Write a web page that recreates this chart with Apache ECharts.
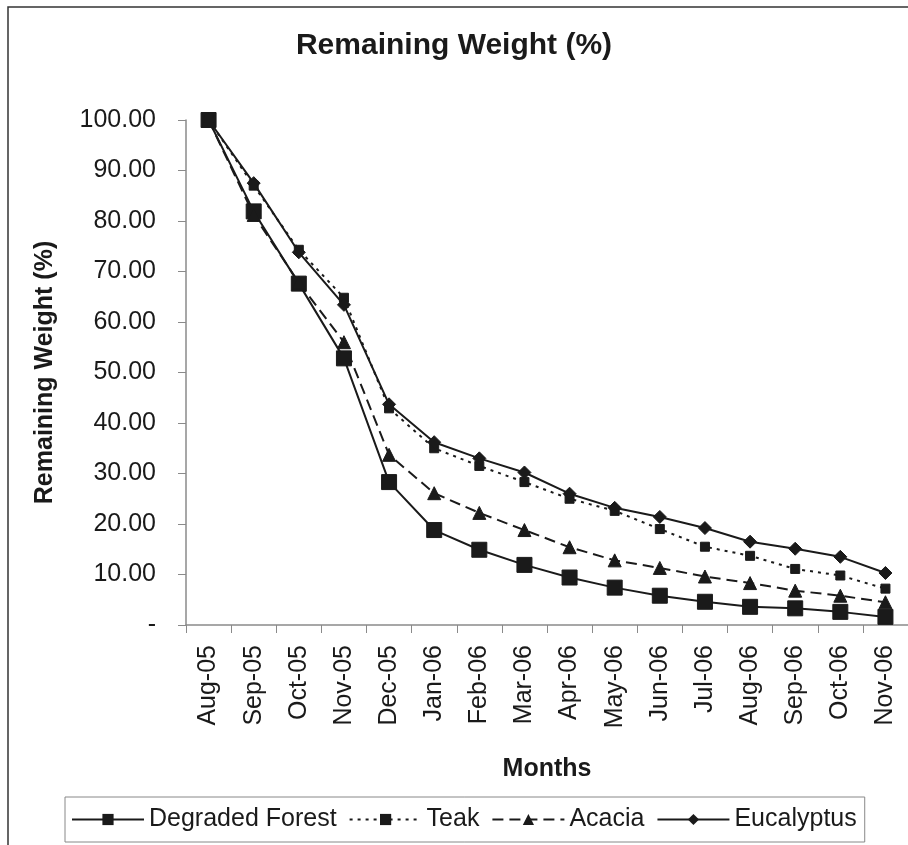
<!DOCTYPE html>
<html>
<head>
<meta charset="utf-8">
<script src="https://cdn.jsdelivr.net/npm/echarts@6/dist/echarts.min.js"></script>
<style>
html,body{margin:0;padding:0;background:#fff;}
#chart{width:908px;height:845px;}
</style>
</head>
<body>
<div id="chart"></div>
<script>
var months = ['Aug-05','Sep-05','Oct-05','Nov-05','Dec-05','Jan-06','Feb-06','Mar-06','Apr-06','May-06','Jun-06','Jul-06','Aug-06','Sep-06','Oct-06','Nov-06'];
var degradedForest = [100, 81.9, 67.6, 52.8, 28.3, 18.8, 14.9, 11.9, 9.4, 7.4, 5.8, 4.6, 3.6, 3.3, 2.6, 1.6];
var teak = [100, 87.0, 74.3, 64.8, 42.9, 35.0, 31.5, 28.3, 25.0, 22.6, 19.0, 15.5, 13.7, 11.1, 9.8, 7.2];
var acacia = [100, 81.2, 67.8, 56.0, 33.7, 26.1, 22.2, 18.8, 15.4, 12.8, 11.3, 9.6, 8.3, 6.8, 5.8, 4.5];
var eucalyptus = [100, 87.5, 73.8, 63.4, 43.7, 36.2, 33.0, 30.2, 26.0, 23.2, 21.4, 19.2, 16.5, 15.1, 13.5, 10.3];
var yTickLabels = ['-', '10.00', '20.00', '30.00', '40.00', '50.00', '60.00', '70.00', '80.00', '90.00', '100.00'];

var font = 'Liberation Sans, Arial, sans-serif';
var ink = '#1a1a1a';
var axisGray = '#8a8a8a';

var chart = echarts.init(document.getElementById('chart'), null, {renderer: 'canvas'});

function lineSeries(name, data, symbol, size, type) {
  return {
    name: name,
    type: 'line',
    data: data,
    symbol: symbol,
    symbolSize: size,
    showAllSymbol: true,
    smooth: false,
    lineStyle: {color: ink, width: 2, type: type},
    itemStyle: {color: ink, borderColor: ink},
    emphasis: {disabled: true},
    animation: false
  };
}

var option = {
  animation: false,
  backgroundColor: '#ffffff',
  textStyle: {fontFamily: font},
  title: {
    text: 'Remaining Weight (%)',
    left: 'center',
    top: 26,
    textStyle: {fontFamily: font, fontSize: 30, fontWeight: 'bold', color: ink}
  },
  graphic: [{
    type: 'rect',
    shape: {x: 8, y: 7, width: 1200, height: 1200},
    style: {fill: 'none', stroke: '#333', lineWidth: 1.5},
    silent: true
  }],
  grid: {left: 186, right: -7, top: 120, bottom: 220, containLabel: false},
  legend: {
    left: 65,
    top: 797,
    padding: [10, 8, 10, 6],
    borderColor: '#888',
    borderWidth: 1,
    itemWidth: 72,
    itemHeight: 14,
    itemGap: 12,
    textStyle: {fontFamily: font, fontSize: 25, color: ink},
    data: ['Degraded Forest', 'Teak', 'Acacia', 'Eucalyptus']
  },
  xAxis: {
    type: 'category',
    data: months,
    boundaryGap: true,
    name: 'Months',
    nameLocation: 'middle',
    nameGap: 132,
    nameTextStyle: {fontFamily: font, fontSize: 25, fontWeight: 'bold', color: ink},
    axisLine: {lineStyle: {color: axisGray, width: 1.5}},
    axisTick: {show: true, alignWithLabel: false, length: 8, lineStyle: {color: axisGray}},
    axisLabel: {rotate: 90, margin: 20, fontFamily: font, fontSize: 25, color: ink, interval: 0},
    splitLine: {show: false}
  },
  yAxis: {
    type: 'value',
    min: 0,
    max: 100,
    interval: 10,
    name: 'Remaining Weight (%)',
    nameLocation: 'middle',
    nameGap: 128,
    nameRotate: 90,
    nameTextStyle: {fontFamily: font, fontSize: 25, fontWeight: 'bold', color: ink},
    axisLine: {show: true, lineStyle: {color: axisGray, width: 1.5}},
    axisTick: {show: true, length: 8, lineStyle: {color: axisGray}},
    axisLabel: {
      margin: 30,
      fontFamily: font,
      fontSize: 25,
      color: ink,
      formatter: function (v) { return yTickLabels[Math.round(v / 10)]; }
    },
    splitLine: {show: false}
  },
  series: [
    lineSeries('Degraded Forest', degradedForest, 'rect', 15, 'solid'),
    lineSeries('Teak', teak, 'rect', 9, [3, 5]),
    lineSeries('Acacia', acacia, 'triangle', 13, [11, 6]),
    lineSeries('Eucalyptus', eucalyptus, 'diamond', 13, 'solid')
  ]
};
chart.setOption(option);
</script>
</body>
</html>
